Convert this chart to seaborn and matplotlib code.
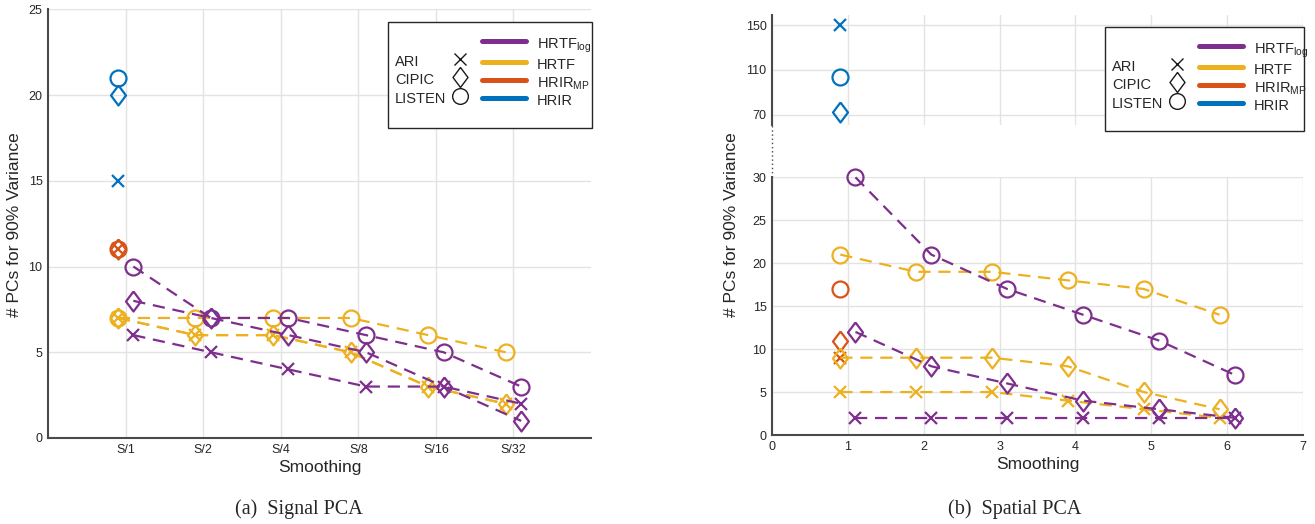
import matplotlib
matplotlib.use('Agg')
import matplotlib.pyplot as plt
from matplotlib.lines import Line2D
from matplotlib.patches import Rectangle
import seaborn as sns
import numpy as np
import pandas as pd

sns.set_theme(style='white')
plt.rcParams['font.family'] = ['Liberation Sans', 'DejaVu Sans']
plt.rcParams['mathtext.fontset'] = 'custom'
plt.rcParams['mathtext.rm'] = 'Liberation Sans'

# smoothing steps
steps_signal = ['S/1', 'S/2', 'S/4', 'S/8', 'S/16', 'S/32']
steps_spatial = [1, 2, 3, 4, 5, 6]
datasets = ['ARI', 'CIPIC', 'LISTEN']

# signal PCA: # PCs for 90% variance
sig_log_ari = [6, 5, 4, 3, 3, 2]
sig_log_cipic = [8, 7, 6, 5, 3, 1]
sig_log_listen = [10, 7, 7, 6, 5, 3]
sig_hrtf_ari = [7, 6, 6, 5, 3, 2]
sig_hrtf_cipic = [7, 6, 6, 5, 3, 2]
sig_hrtf_listen = [7, 7, 7, 7, 6, 5]
sig_mp = [11, 11, 11]        # ARI, CIPIC, LISTEN (no smoothing only)
sig_hrir = [15, 20, 21]

# spatial PCA
spa_log_ari = [2, 2, 2, 2, 2, 2]
spa_log_cipic = [12, 8, 6, 4, 3, 2]
spa_log_listen = [30, 21, 17, 14, 11, 7]
spa_hrtf_ari = [5, 5, 5, 4, 3, 2]
spa_hrtf_cipic = [9, 9, 9, 8, 5, 3]
spa_hrtf_listen = [21, 19, 19, 18, 17, 14]
spa_mp = [9, 11, 17]
spa_hrir = [150, 73, 104]

c_log = '#7E2F8E'
c_hrtf = '#EDB120'
c_mp = '#D95319'
c_hrir = '#0072BD'

# matlab style diamond (taller than wide)
diamond = [(0, 1), (0.75, 0), (0, -1), (-0.75, 0), (0, 1)]
mk = {'ARI': 'x', 'CIPIC': diamond, 'LISTEN': 'o'}
msz = {'ARI': 8, 'CIPIC': 14.4, 'LISTEN': 11.5}
msz_key = {'ARI': 8.6, 'CIPIC': 14.4, 'LISTEN': 11.3}

W, H = 1315, 524
grey = '#4a4a4a'


def series(ax, xs, ys, color, d, dashed=True):
    df = pd.DataFrame({'x': xs, 'y': ys})
    sns.lineplot(data=df, x='x', y='y', ax=ax, color=color, marker=mk[d],
                 linestyle=(0, (5.5, 3.5)) if dashed else 'none', lw=1.6,
                 markersize=msz[d], markerfacecolor='none',
                 markeredgecolor=color, markeredgewidth=1.6, clip_on=False)


def style(ax):
    ax.grid(True, color='#e3e3e3', lw=1)
    ax.set_axisbelow(True)
    for s in ['top', 'right']:
        ax.spines[s].set_visible(False)
    for s in ['left', 'bottom']:
        ax.spines[s].set_color(grey)
        ax.spines[s].set_linewidth(1.5)
    ax.tick_params(direction='in', length=4, width=1, color=grey,
                   labelcolor='#262626', labelsize=9, pad=4)
    ax.set_xlabel('')
    ax.set_ylabel('')


def add_key(fig, x0, top, x1, bottom):
    fig.add_artist(Rectangle((x0 / W, 1 - bottom / H), (x1 - x0) / W, (bottom - top) / H,
                             transform=fig.transFigure, facecolor='white',
                             edgecolor='#262626', lw=1.0, zorder=10))
    ytop = 1 - (top + 12) / H
    common = dict(frameon=False, loc='upper left', bbox_transform=fig.transFigure,
                  borderpad=0, borderaxespad=0, labelspacing=0, handleheight=1.55,
                  fontsize=10.5)
    blank = Line2D([], [], linestyle='none')
    names = fig.legend([blank] * 4, [''] + datasets,
                       bbox_to_anchor=((x0 + 7) / W, ytop),
                       handlelength=0, handletextpad=0, **common)
    marks = [blank] + [Line2D([], [], linestyle='none', marker=mk[d], color='k',
                              markerfacecolor='none', markersize=msz_key[d],
                              markeredgewidth=1.0) for d in datasets]
    keys = fig.legend(marks, [''] * 4, bbox_to_anchor=((x0 + 65) / W, ytop),
                      handlelength=1.0, handletextpad=0, **common)
    lines = [Line2D([], [], color=c, lw=3.6) for c in [c_log, c_hrtf, c_mp, c_hrir]]
    meth = fig.legend(lines, [r'HRTF$_{\mathregular{log}}$', 'HRTF',
                              r'HRIR$_{\mathregular{MP}}$', 'HRIR'],
                      bbox_to_anchor=((x0 + 94) / W, ytop),
                      handlelength=3.0, handletextpad=0.75, **common)
    for lg in (names, keys, meth):
        lg.set_zorder(11)


fig = plt.figure(figsize=(W / 100, H / 100), dpi=100)

# ---- (a) signal PCA
ax1 = fig.add_axes([48 / W, 1 - 438 / H, 543 / W, (438 - 9.3) / H])
xs = np.arange(1, len(steps_signal) + 1)
for i, d in enumerate(datasets):
    series(ax1, xs[:1] - 0.1, [sig_hrir[i]], c_hrir, d, dashed=False)
    series(ax1, xs[:1] - 0.1, [sig_mp[i]], c_mp, d, dashed=False)
for d, vals in zip(datasets, [sig_hrtf_ari, sig_hrtf_cipic, sig_hrtf_listen]):
    series(ax1, xs - 0.1, vals, c_hrtf, d)
for d, vals in zip(datasets, [sig_log_ari, sig_log_cipic, sig_log_listen]):
    series(ax1, xs + 0.1, vals, c_log, d)
ax1.set_xlim(0, 7)
ax1.set_ylim(0, 25)
ax1.set_xticks(xs)
ax1.set_xticklabels(steps_signal)
ax1.set_yticks(range(0, 26, 5))
style(ax1)
ax1.set_xlabel('Smoothing', fontsize=12.5, color='#262626', labelpad=3)
add_key(fig, 388, 22, 592, 128)

# ---- (b) spatial PCA, broken y axis
ax2 = fig.add_axes([772 / W, 1 - 435 / H, 531 / W, (435 - 177.3) / H])
ax3 = fig.add_axes([772 / W, 1 - 125 / H, 531 / W, 110 / H])
xs2 = np.array(steps_spatial, dtype=float)
for i, d in enumerate(datasets):
    series(ax3, xs2[:1] - 0.1, [spa_hrir[i]], c_hrir, d, dashed=False)
    series(ax2, xs2[:1] - 0.1, [spa_mp[i]], c_mp, d, dashed=False)
for d, vals in zip(datasets, [spa_hrtf_ari, spa_hrtf_cipic, spa_hrtf_listen]):
    series(ax2, xs2 - 0.1, vals, c_hrtf, d)
for d, vals in zip(datasets, [spa_log_ari, spa_log_cipic, spa_log_listen]):
    series(ax2, xs2 + 0.1, vals, c_log, d)
ax2.set_xlim(0, 7)
ax2.set_ylim(0, 30)
ax2.set_xticks(range(0, 8))
ax2.set_yticks(range(0, 31, 5))
style(ax2)
ax2.set_xlabel('Smoothing', fontsize=12.5, color='#262626', labelpad=3)
ax3.set_xlim(0, 7)
ax3.set_ylim(61, 159)
ax3.set_xticks(range(0, 8))
ax3.set_yticks([70, 110, 150])
style(ax3)
ax3.spines['bottom'].set_visible(False)
ax3.tick_params(axis='x', length=0, labelbottom=False)
fig.add_artist(Line2D([772 / W] * 2, [1 - 177.3 / H, 1 - 125 / H], transform=fig.transFigure,
                      color=grey, lw=1, ls=(0, (1, 2))))
add_key(fig, 1105, 27, 1304, 131)

for xc in (15, 731):
    fig.text(xc / W, 1 - 225 / H, '# PCs for 90% Variance', rotation=90,
             ha='center', va='center', fontsize=12.5, color='#262626')
fig.text(299 / W, 1 - 509 / H, '(a)  Signal PCA', ha='center', va='center',
         family='Liberation Serif', fontsize=14.5)
fig.text(1015 / W, 1 - 509 / H, '(b)  Spatial PCA', ha='center', va='center',
         family='Liberation Serif', fontsize=14.5)

fig.savefig('out.png', dpi=100)
